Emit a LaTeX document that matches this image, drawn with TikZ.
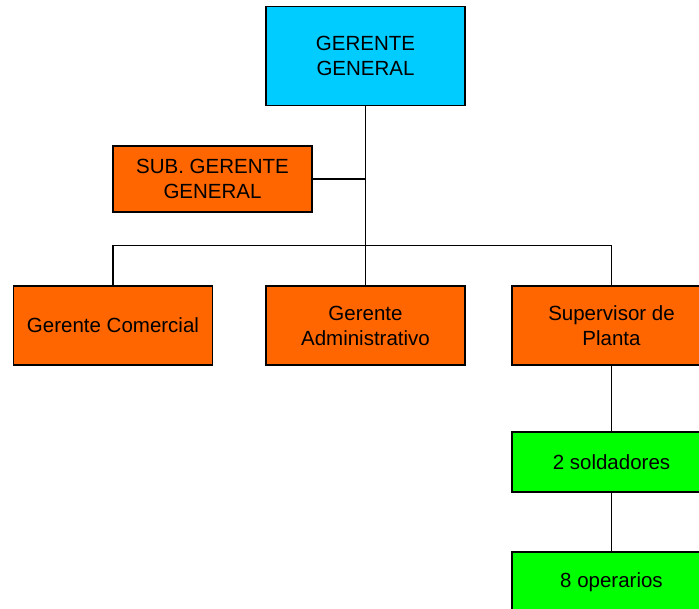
\documentclass[tikz,border=0pt]{standalone}
\usepackage{fontspec}
\setmainfont{Liberation Sans}
\definecolor{boxcyan}{RGB}{0,204,255}
\definecolor{boxorange}{RGB}{255,102,0}
\definecolor{boxgreen}{RGB}{0,255,0}
\begin{document}
\begin{tikzpicture}[x=1pt,y=-1pt,
  unit/.style={draw=black,line width=1.2pt,minimum width=199pt,align=center,
    inner sep=0pt,font=\fontsize{20.5}{25}\selectfont},
  link/.style={draw=black,line width=1.2pt}]
\useasboundingbox (0,0) rectangle (699,609);
\begin{scope}
\clip (0,0) rectangle (699,609);
\node[unit,fill=boxcyan,minimum height=99pt] (gg) at (365.5,56) {GERENTE\\GENERAL};
\node[unit,fill=boxorange,minimum height=66pt] (sub) at (212.5,179) {SUB. GERENTE\\GENERAL};
\node[unit,fill=boxorange,minimum height=79pt] (com) at (113,325.5) {Gerente Comercial};
\node[unit,fill=boxorange,minimum height=79pt] (adm) at (365.5,325.5) {Gerente\\Administrativo};
\node[unit,fill=boxorange,minimum height=79pt] (sup) at (611.5,325.5) {Supervisor de\\Planta};
\node[unit,fill=boxgreen,minimum height=60pt] (sol) at (611.5,462) {2 soldadores};
\node[unit,fill=boxgreen,minimum height=60pt] (ope) at (611.5,582) {8 operarios};
\coordinate (bus) at (365.5,245.5);
\draw[link] (gg.south) -- (bus);
\draw[link] (sub.east) -- (sub.east -| gg.south);
\draw[link] (com.north) |- (bus) -| (sup.north);
\draw[link] (bus) -- (adm.north);
\draw[link] (sup.south) -- (sol.north);
\draw[link] (sol.south) -- (ope.north);
\end{scope}
\end{tikzpicture}
\end{document}
